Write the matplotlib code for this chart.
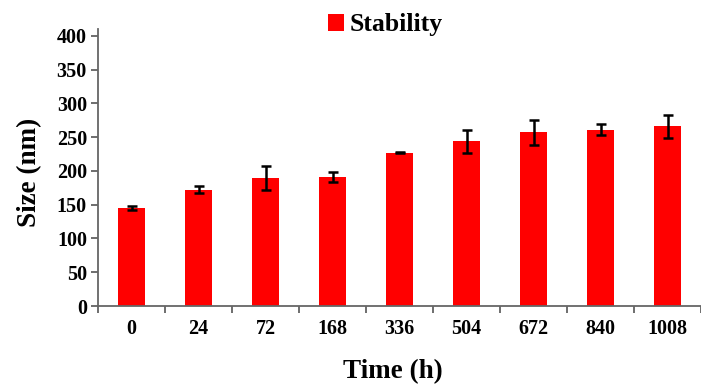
import numpy as np
import matplotlib
matplotlib.use("Agg")
import matplotlib.pyplot as plt

# data
times = ["0", "24", "72", "168", "336", "504", "672", "840", "1008"]
size_nm = [145, 172, 189, 191, 227, 244, 257, 261, 266]
size_err = [3.5, 5, 18, 7, 1, 17, 18, 8, 17]

plt.rcParams['font.family'] = ['Liberation Serif', 'DejaVu Serif']
plt.rcParams['font.weight'] = 'bold'

fig = plt.figure(figsize=(7.01, 3.88), dpi=100)
ax = fig.add_axes([98 / 701, 82 / 388, 1 - 98 / 701, 277 / 388])

x = np.arange(len(times))
ax.bar(x, size_nm, width=0.41, color='#ff0000', label='Stability',
       yerr=size_err, error_kw=dict(ecolor='black', elinewidth=1.8, capsize=3.5, capthick=1.8))

ax.set_xlim(-0.5, 8.41)
ax.set_ylim(0, 410)
ax.set_yticks(np.arange(0, 401, 50))
ax.set_xticks(x)
ax.set_xticklabels(times, fontsize=14.5, fontweight='bold')
ax.set_xticks(np.arange(-0.5, 9, 1), minor=True)
ax.tick_params(axis='x', which='major', length=0, pad=9)
ax.tick_params(axis='x', which='minor', length=5, width=1.2, color='#555555', direction='out')
ax.tick_params(axis='y', length=5, width=1.2, color='#555555', labelsize=14.5, pad=3)
for lab in ax.get_yticklabels():
    lab.set_fontweight('bold')

for s in ['top', 'right']:
    ax.spines[s].set_visible(False)
ax.spines['left'].set_color('#666666')
ax.spines['bottom'].set_color('#666666')
ax.spines['left'].set_linewidth(1.3)
ax.spines['bottom'].set_linewidth(1.3)

fig.text(30 / 701, 1 - 172 / 388, 'Size (nm)', rotation=90, ha='center', va='center',
         fontsize=19.5, fontweight='bold')
fig.text(393 / 701, 1 - 372 / 388, 'Time (h)', ha='center', va='center',
         fontsize=19.5, fontweight='bold')

fig.legend(loc='center', bbox_to_anchor=(385 / 701, 1 - 25 / 388), frameon=False,
           prop=dict(size=18.5, weight='bold'), handlelength=0.65, handleheight=0.65,
           handletextpad=0.2)

fig.savefig('out.png', dpi=100)
